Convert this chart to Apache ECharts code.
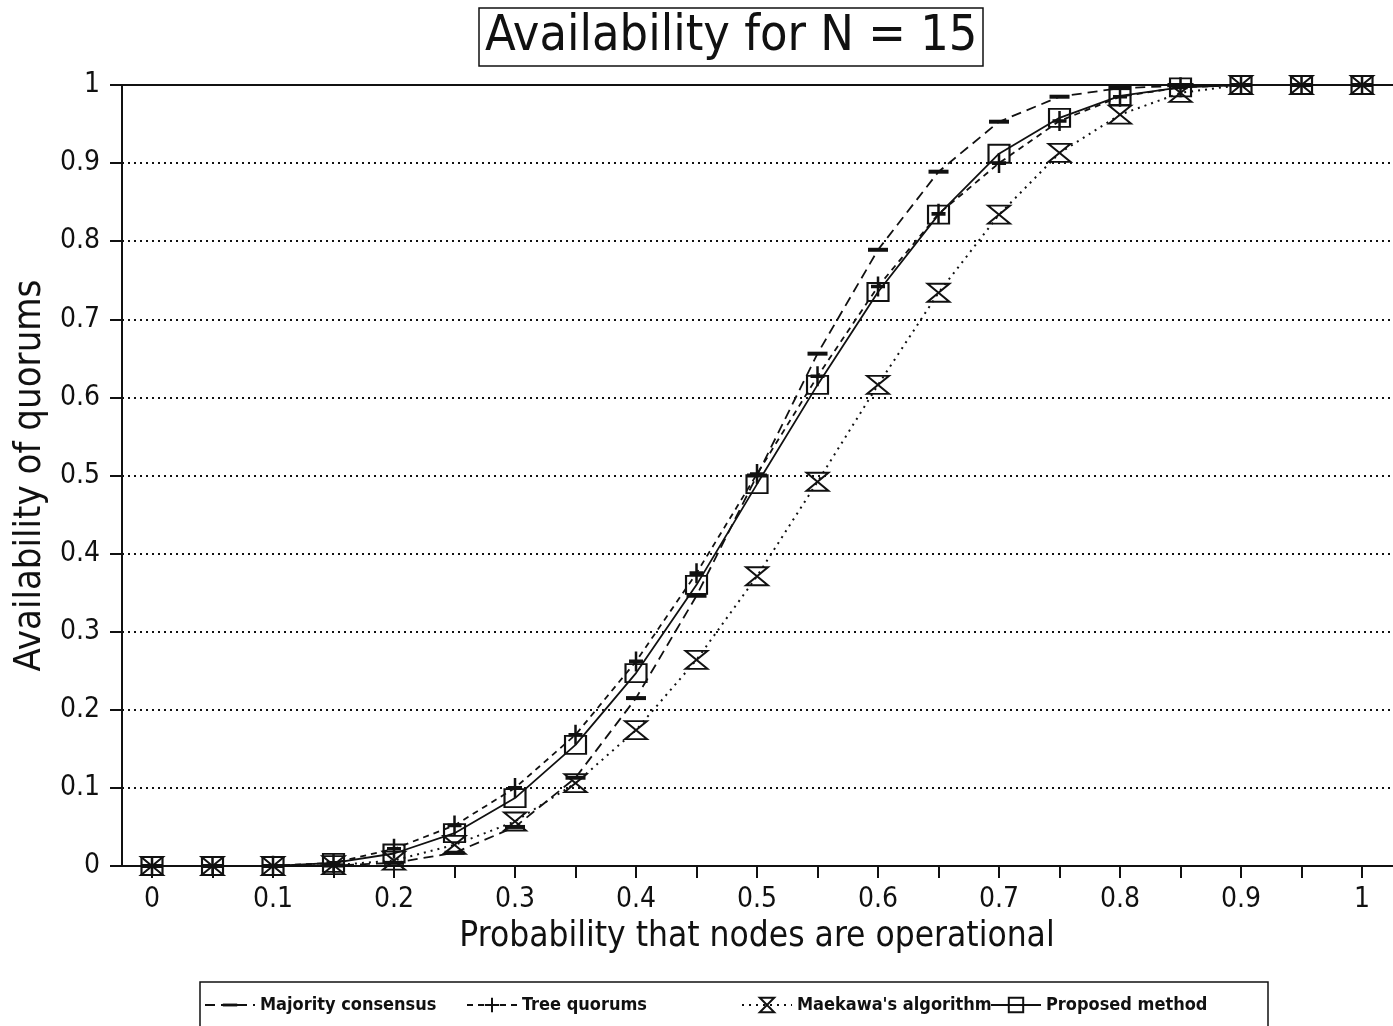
<!DOCTYPE html>
<html><head><meta charset="utf-8">
<script src="https://cdn.jsdelivr.net/npm/echarts@6/dist/echarts.min.js"></script>
<style>html,body{margin:0;padding:0;background:#fff}#c{width:1393px;height:1026px}</style>
</head><body><div id="c"></div>
<script>
const probs = [0,0.05,0.1,0.15,0.2,0.25,0.3,0.35,0.4,0.45,0.5,0.55,0.6,0.65,0.7,0.75,0.8,0.85,0.9,0.95,1];
const majority = [0,0,0,0.0006,0.004,0.017,0.05,0.113,0.215,0.346,0.5,0.656,0.789,0.889,0.953,0.985,0.996,0.999,1,1,1];
const tree     = [0,0,0.0003,0.004,0.022,0.052,0.1,0.168,0.262,0.375,0.502,0.627,0.742,0.835,0.9,0.954,0.985,0.997,1,1,1];
const proposed = [0,0,0.0002,0.004,0.016,0.042,0.087,0.155,0.247,0.36,0.489,0.616,0.735,0.834,0.912,0.958,0.986,0.997,1,1,1];
const maekawa  = [0,0,0,0.001,0.007,0.027,0.057,0.106,0.174,0.264,0.371,0.492,0.616,0.734,0.834,0.913,0.962,0.99,1,1,1];
const xTickLabels = ['0','0.1','0.2','0.3','0.4','0.5','0.6','0.7','0.8','0.9','1'];
const yTickLabels = ['0','0.1','0.2','0.3','0.4','0.5','0.6','0.7','0.8','0.9','1'];
const seriesNames = ['Majority consensus','Tree quorums',"Maekawa's algorithm",'Proposed method'];

const FONT = '"Liberation Sans Narrow","DejaVu Sans Condensed","Liberation Sans",sans-serif';
const INK = '#111';
const pairs = arr => probs.map((p,i)=>[p,arr[i]]);

const chart = echarts.init(document.getElementById('c'), null, {renderer:'canvas'});
const mk = (name, data, symbol, size, itemStyle, lineStyle) => ({
  name, type:'line', data: pairs(data), xAxisIndex:0, yAxisIndex:0,
  symbol, symbolSize:size, showSymbol:true, itemStyle, lineStyle,
  emphasis:{disabled:true}, z:3
});
const legendBase = (name, left) => ({
  data:[name], left, top:991, itemWidth:50, itemHeight:18, itemGap:0,
  textStyle:{fontFamily:FONT, fontSize:18, fontWeight:'bold', color:INK}
});
chart.setOption({
  animation:false,
  backgroundColor:'#fff',
  title:{
    text:'Availability for N = 15', left:479, top:8,
    borderColor:INK, borderWidth:1.5, padding:[4,6,4,6],
    textStyle:{fontFamily:FONT, fontSize:50, fontWeight:'normal', color:INK}
  },
  legend:[
    legendBase(seriesNames[0],199),
    legendBase(seriesNames[1],461),
    legendBase(seriesNames[2],736),
    legendBase(seriesNames[3],985)
  ],
  graphic:[{type:'rect', shape:{x:200,y:982,width:1068,height:60}, style:{fill:'none',stroke:INK,lineWidth:1.5}, silent:true}],
  grid:[
    {left:122, right:0, top:85, bottom:160},
    {left:152, right:31, top:85, bottom:160}
  ],
  xAxis:[
    {type:'value', gridIndex:0, min:-0.0248, max:1.0256, position:'bottom',
     axisLine:{show:true, onZero:false, lineStyle:{color:INK,width:2}}, axisTick:{show:false}, axisLabel:{show:false}, splitLine:{show:false}},
    {type:'value', gridIndex:1, min:0, max:1, interval:0.05, position:'bottom',
     name:'Probability that nodes are operational', nameLocation:'middle', nameGap:53,
     nameTextStyle:{fontFamily:FONT, fontSize:35, color:INK},
     axisLine:{show:false, onZero:false}, axisTick:{show:true, length:12, lineStyle:{color:INK,width:2}},
     axisLabel:{show:true, margin:20, showMinLabel:true, showMaxLabel:true, fontFamily:FONT, fontSize:28, color:INK,
       formatter:v=>{const k=Math.round(v*20); return k%2 ? '' : xTickLabels[k/2];}},
     splitLine:{show:false}},
    {type:'value', gridIndex:0, min:-0.0248, max:1.0256, position:'top',
     axisLine:{show:true, onZero:false, lineStyle:{color:INK,width:2}}, axisTick:{show:false}, axisLabel:{show:false}, splitLine:{show:false}}
  ],
  yAxis:[
    {type:'value', gridIndex:0, min:0, max:1, interval:0.1,
     name:'Availability of quorums', nameLocation:'middle', nameGap:72,
     nameTextStyle:{fontFamily:FONT, fontSize:38, color:INK},
     axisLine:{show:true, onZero:false, lineStyle:{color:INK,width:2}},
     axisTick:{show:true, length:12, lineStyle:{color:INK,width:2}},
     axisLabel:{margin:22, fontFamily:FONT, fontSize:28, color:INK, formatter:v=>yTickLabels[Math.round(v*10)]},
     splitLine:{show:true, lineStyle:{color:INK, width:2, type:[2,4]}}},
    {type:'value', gridIndex:1, min:0, max:1, show:false}
  ],
  series:[
    mk(seriesNames[0], majority, 'path://M0,0M10,10M0,4L10,4L10,6L0,6Z', 20, {color:INK}, {color:INK, width:1.8, type:[10,6]}),
    mk(seriesNames[1], tree, 'path://M5,0L5,10M0,5L10,5', [14,20], {color:'transparent', borderColor:INK, borderWidth:3}, {color:INK, width:1.8, type:[6,5]}),
    mk(seriesNames[2], maekawa, 'path://M0,0L10,0L0,10L10,10Z', [22,18], {color:'transparent', borderColor:INK, borderWidth:2}, {color:INK, width:2, type:[2,5]}),
    mk(seriesNames[3], proposed, 'path://M0,0L10,0L10,10L0,10Z', [21,18], {color:'transparent', borderColor:INK, borderWidth:2}, {color:INK, width:1.8, type:'solid'})
  ]
});
</script></body></html>
